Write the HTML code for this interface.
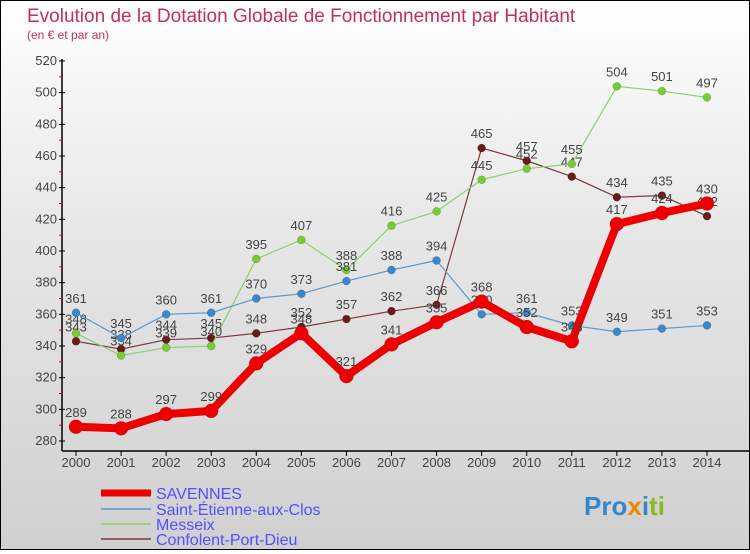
<!DOCTYPE html>
<html><head><meta charset="utf-8"><style>
body{margin:0;width:750px;height:550px;overflow:hidden;font-family:"Liberation Sans","DejaVu Sans",sans-serif}
#wrap{position:relative;width:748px;height:548px;border:1px solid #000;background:linear-gradient(#fff 0%,#e8e8e8 40%,#d0d0d0 100%)}
</style></head><body>
<div id="wrap">
<svg id="chart" width="748" height="548">
<text x="26" y="21" font-size="19" fill="#c0305a">Evolution de la Dotation Globale de Fonctionnement par Habitant</text>
<text x="26" y="38" font-size="12" fill="#c0305a">(en € et par an)</text>
<g id="axes"></g><g id="series"></g>
<g>
<line x1="100" y1="492" x2="150" y2="492" stroke="#e00" stroke-width="7"/>
<text x="155" y="498" font-size="16" fill="#5050ff">SAVENNES</text>
<line x1="100" y1="508" x2="150" y2="508" stroke="#7aa8cc" stroke-width="2"/>
<text x="155" y="514" font-size="16" fill="#5050ff">Saint-Étienne-aux-Clos</text>
<line x1="100" y1="523" x2="150" y2="523" stroke="#9cd080" stroke-width="2"/>
<text x="155" y="529" font-size="16" fill="#5050ff">Messeix</text>
<line x1="100" y1="538" x2="150" y2="538" stroke="#8a6060" stroke-width="2"/>
<text x="155" y="544" font-size="16" fill="#5050ff">Confolent-Port-Dieu</text>
</g>
<text x="583" y="514" font-size="26" font-weight="bold"><tspan fill="#3388cc">Pro</tspan><tspan fill="#ee8800">x</tspan><tspan fill="#3388cc">i</tspan><tspan fill="#88bb22">ti</tspan></text>
</svg>
</div>
<script>
const years=[2000,2001,2002,2003,2004,2005,2006,2007,2008,2009,2010,2011,2012,2013,2014];
const savennes=[289,288,297,299,329,348,321,341,355,368,352,343,417,424,430];
const saintEtienne=[361,345,360,361,370,373,381,388,394,360,361,353,349,351,353];
const messeix=[348,334,339,340,395,407,388,416,425,445,452,455,504,501,497];
const confolent=[343,338,344,345,348,352,357,362,366,465,457,447,434,435,422];
const yTicks=[280,300,320,340,360,380,400,420,440,460,480,500,520];
const NS='http://www.w3.org/2000/svg';
function X(i){return 75+i*(706-75)/14;}
function Y(v){return 440-(v-280)*380/240;}
function el(t,a,p){const e=document.createElementNS(NS,t);for(const k in a)e.setAttribute(k,a[k]);p.appendChild(e);return e;}
const ax=document.getElementById('axes');
let e=el('line',{x1:61,y1:58,x2:61,y2:450,stroke:'#000','stroke-width':1.5},ax);


e=el('line',{x1:61,y1:450,x2:748,y2:450,stroke:'#000','stroke-width':1.5},ax);


yTicks.forEach(v=>{
 el('line',{x1:58,y1:Y(v),x2:64,y2:Y(v),stroke:'#000'},ax);
 if(v<520) el('line',{x1:58,y1:Y(v+10),x2:61,y2:Y(v+10),stroke:'#e00'},ax);
 const t=el('text',{x:56,y:Y(v)+4,'font-size':13,fill:'#444','text-anchor':'end'},ax);t.textContent=v;
 
 
});
years.forEach((y,i)=>{
 el('line',{x1:X(i),y1:450,x2:X(i),y2:455,stroke:'#000'},ax);
 const t=el('text',{x:X(i),y:466,'font-size':13,fill:'#444','text-anchor':'middle'},ax);t.textContent=y;
 
 
});
const sg=document.getElementById('series');
function draw(vals,color,dot,w,r,name){
 const g=el('g',{},sg);
 
 
 el('polyline',{points:vals.map((v,i)=>X(i)+','+Y(v)).join(' '),fill:'none',stroke:color,'stroke-width':w,'stroke-linejoin':'round'},g);
 vals.forEach((v,i)=>{
  const c=el('circle',{cx:X(i),cy:Y(v),r:r,fill:dot,stroke:'rgba(0,0,0,0.25)','stroke-width':0.5},g);
  
  
  const t=el('text',{x:X(i),y:Y(v)-10,'font-size':13,fill:'#444','text-anchor':'middle'},g);t.textContent=v;
  
  
 });
}
draw(confolent,'#7a3a3a','#6a1a1a',1.2,4,'confolent');
draw(messeix,'#8cd070','#77cc33',1.2,4,'messeix');
draw(saintEtienne,'#5a9ad0','#3a88cc',1.2,4,'saint-etienne');
draw(savennes,'#ee0000','#ee0000',8,7,'savennes');
</script>
</body></html>
